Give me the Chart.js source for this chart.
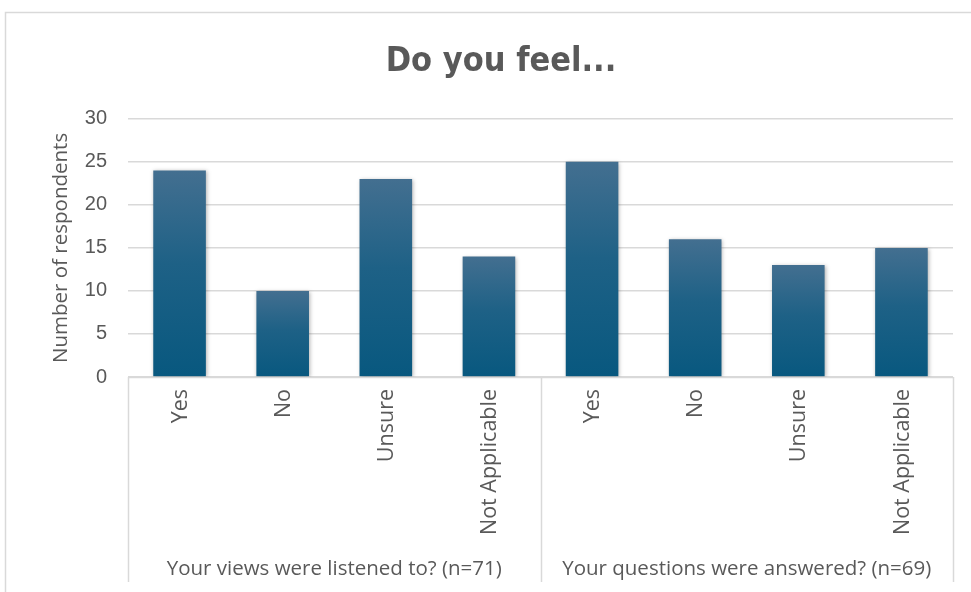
<!DOCTYPE html>
<html>
<head>
  <title>Do you feel...</title>
  <script src="https://cdn.jsdelivr.net/npm/chart.js"></script>
  <style>
    body { margin: 0; background: #fff; }
  </style>
</head>
<body>
  <canvas id="barChart" width="971" height="592"></canvas>

  <script>
    // Data
    var categories = ['Yes', 'No', 'Unsure', 'Not Applicable', 'Yes', 'No', 'Unsure', 'Not Applicable'];
    var groups = ['Your views were listened to? (n=71)', 'Your questions were answered? (n=69)'];
    var groupSizes = [4, 4];
    var respondents = [24, 10, 23, 14, 25, 16, 13, 15];
    var yTicks = [0, 5, 10, 15, 20, 25, 30];

    var textColor = '#595959';
    var lineColor = '#d9d9d9';

    // Each bar gets its own top-to-bottom gradient, like the original
    function barGradient(context) {
      var chart = context.chart;
      var y = chart.scales.y;
      if (!y || !context.parsed) return '#0b5a80';
      var top = y.getPixelForValue(context.parsed.y);
      var base = y.getPixelForValue(0);
      if (!isFinite(top) || !isFinite(base) || top === base) return '#0b5a80';
      var g = chart.ctx.createLinearGradient(0, top, 0, base);
      g.addColorStop(0, '#436f90');
      g.addColorStop(0.45, '#1e6186');
      g.addColorStop(1, '#08587f');
      return g;
    }

    // Frame, shadow and the two-level category axis
    var decorations = {
      id: 'decorations',
      beforeDraw: function(chart) {
        var ctx = chart.ctx;
        ctx.save();
        ctx.strokeStyle = lineColor;
        ctx.lineWidth = 1.5;
        ctx.strokeRect(5.5, 12.5, 1100, 700);
        ctx.restore();
      },
      beforeDatasetsDraw: function(chart) {
        var ctx = chart.ctx;
        ctx.save();
        ctx.shadowColor = 'rgba(0,0,0,0.3)';
        ctx.shadowBlur = 4;
        ctx.shadowOffsetX = 1;
        ctx.shadowOffsetY = 1;
      },
      afterDatasetsDraw: function(chart) {
        chart.ctx.restore();
      },
      afterDraw: function(chart) {
        var ctx = chart.ctx;
        var area = chart.chartArea;
        var x = chart.scales.x;
        var step = x.getPixelForValue(1) - x.getPixelForValue(0);
        var bottom = 582;

        ctx.save();
        ctx.strokeStyle = lineColor;
        ctx.lineWidth = 1.5;
        ctx.beginPath();
        ctx.moveTo(area.left, area.bottom + 0.5);
        ctx.lineTo(area.right, area.bottom + 0.5);
        var idx = 0;
        var edges = [area.left];
        groupSizes.forEach(function(n) {
          idx += n;
          edges.push(x.getPixelForValue(idx - 1) + step / 2);
        });
        edges.forEach(function(px) {
          ctx.moveTo(Math.round(px) + 0.5, area.bottom);
          ctx.lineTo(Math.round(px) + 0.5, bottom);
        });
        ctx.stroke();

        ctx.fillStyle = textColor;
        ctx.font = '21.5px "Open Sans", "Liberation Sans", sans-serif';
        categories.forEach(function(label, i) {
          ctx.save();
          ctx.translate(x.getPixelForValue(i) + 1, area.bottom + 12);
          ctx.rotate(-Math.PI / 2);
          ctx.textAlign = 'right';
          ctx.textBaseline = 'middle';
          ctx.fillText(label, 0, 0);
          ctx.restore();
        });

        ctx.textAlign = 'center';
        ctx.textBaseline = 'middle';
        ctx.font = '20.5px "Open Sans", "Liberation Sans", sans-serif';
        groups.forEach(function(g, i) {
          ctx.fillText(g, (edges[i] + edges[i + 1]) / 2, 569);
        });
        ctx.restore();
      }
    };

    new Chart(document.getElementById('barChart'), {
      type: 'bar',
      data: {
        labels: categories,
        datasets: [{
          label: 'Number of respondents',
          data: respondents,
          backgroundColor: barGradient,
          borderWidth: 0,
          categoryPercentage: 1,
          barPercentage: 0.51
        }]
      },
      options: {
        responsive: false,
        animation: false,
        devicePixelRatio: 1,
        layout: {
          padding: { left: 49, right: 18, top: 0, bottom: 215 }
        },
        plugins: {
          legend: { display: false },
          tooltip: { enabled: false },
          title: {
            display: true,
            text: 'Do you feel...',
            color: textColor,
            font: { family: '"DejaVu Sans Condensed", "Liberation Sans Narrow", sans-serif', size: 34, weight: 'bold', lineHeight: 1.2 },
            padding: { top: 42, bottom: 36 }
          }
        },
        scales: {
          x: {
            display: false
          },
          y: {
            min: 0,
            max: 30,
            afterBuildTicks: function(scale) {
              scale.ticks = yTicks.map(function(v) { return { value: v }; });
            },
            afterFit: function(scale) { scale.width = 79; },
            ticks: {
              color: textColor,
              padding: 21,
              font: { family: '"Liberation Sans", Arial, sans-serif', size: 20 }
            },
            grid: { color: lineColor, lineWidth: 1.5, drawTicks: false },
            border: { display: false },
            title: {
              display: true,
              text: 'Number of respondents',
              color: textColor,
              font: { family: '"Open Sans", "Liberation Sans", sans-serif', size: 20.5 },
              padding: 0
            }
          }
        }
      },
      plugins: [decorations]
    });
  </script>
</body>
</html>
